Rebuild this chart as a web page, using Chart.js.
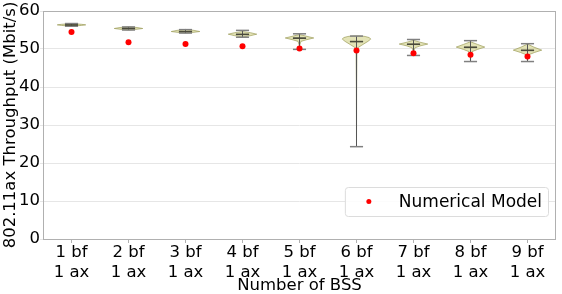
<!DOCTYPE html>
<html>
<head>
<meta charset="utf-8">
<script src="https://cdn.jsdelivr.net/npm/chart.js@4.4.1/dist/chart.umd.min.js"></script>
<style>
  html, body { margin: 0; padding: 0; background: #fff; }
  #wrap { width: 562px; height: 294px; }
</style>
</head>
<body>
<div id="wrap"><canvas id="chartViolin"></canvas></div>
<script>
// categorias (numero de BSS)
const categories = [
  ['1 bf', '1 ax'], ['2 bf', '1 ax'], ['3 bf', '1 ax'],
  ['4 bf', '1 ax'], ['5 bf', '1 ax'], ['6 bf', '1 ax'],
  ['7 bf', '1 ax'], ['8 bf', '1 ax'], ['9 bf', '1 ax']
];

// modelo numerico (puntos rojos)
const modelValues = [54.5, 51.8, 51.3, 50.7, 50.1, 49.6, 48.9, 48.5, 48.0];

// simulacion: min / max / media / mediana
const simMin    = [56.0, 55.0, 54.2, 53.1, 49.9, 24.3, 48.3, 46.7, 46.7];
const simMax    = [56.7, 55.8, 55.1, 54.9, 54.0, 53.4, 52.5, 52.2, 51.4];
const simMean   = [56.35, 55.4, 54.6, 53.8, 52.8, 51.9, 51.2, 50.4, 49.6];
const simMedian = [56.3, 55.4, 54.6, 53.9, 52.9, 52.0, 51.3, 50.5, 49.7];

// perfil de densidad de cada violin: [valor, ancho relativo]
const violinShapes = [
  [[56.7, 0], [56.5, 0.7], [56.35, 1], [56.2, 0.7], [56.0, 0]],
  [[55.85, 0], [55.65, 0.6], [55.4, 1], [55.2, 0.6], [55.0, 0]],
  [[55.15, 0], [54.9, 0.6], [54.6, 1], [54.4, 0.6], [54.2, 0]],
  [[54.6, 0], [54.3, 0.55], [53.9, 1], [53.5, 0.55], [53.2, 0.1], [53.1, 0]],
  [[53.8, 0], [53.4, 0.45], [52.9, 1], [52.4, 0.45], [52.0, 0.1], [51.0, 0.02], [49.9, 0]],
  [[53.45, 0.2], [53.3, 0.6], [53.0, 0.9], [52.6, 1], [52.0, 0.8], [51.2, 0.45], [50.4, 0.12], [49.8, 0.03], [40, 0.01], [24.3, 0]],
  [[52.3, 0], [51.8, 0.45], [51.3, 1], [50.8, 0.45], [50.3, 0.1], [49.5, 0.02], [48.3, 0]],
  [[51.9, 0], [51.2, 0.5], [50.5, 1], [49.9, 0.5], [49.3, 0.1], [48.0, 0.02], [46.7, 0]],
  [[51.3, 0], [50.5, 0.45], [49.7, 1], [49.1, 0.5], [48.5, 0.1], [47.5, 0.02], [46.7, 0]]
];

const FONT = "'DejaVu Sans', sans-serif";

// violines dibujados con las escalas del grafico
const violinPlugin = {
  id: 'violins',
  beforeDatasetsDraw(chart) {
    const { ctx, chartArea } = chart;
    const xs = chart.scales.x, ys = chart.scales.y;
    const step = xs.getPixelForValue(1) - xs.getPixelForValue(0);
    const halfW = step * 0.25;
    const capW = step * 0.115;

    ctx.save();
    // marco del area
    ctx.strokeStyle = '#b0b0b0';
    ctx.lineWidth = 1;
    ctx.strokeRect(chartArea.left + 0.5, chartArea.top + 0.5,
      chartArea.right - chartArea.left - 1, chartArea.bottom - chartArea.top);

    violinShapes.forEach((shape, i) => {
      const cx = xs.getPixelForValue(i);
      const right = shape.map(p => [cx + p[1] * halfW, ys.getPixelForValue(p[0])]);
      const left = shape.map(p => [cx - p[1] * halfW, ys.getPixelForValue(p[0])]).reverse();
      const pts = right.concat(left);
      ctx.beginPath();
      ctx.moveTo(pts[0][0], pts[0][1]);
      for (let k = 1; k < pts.length; k++) ctx.lineTo(pts[k][0], pts[k][1]);
      ctx.closePath();
      ctx.fillStyle = 'rgba(200, 200, 110, 0.5)';
      ctx.fill();
      ctx.strokeStyle = 'rgba(150, 150, 80, 0.8)';
      ctx.lineWidth = 0.8;
      ctx.stroke();

      // linea vertical min-max
      const yMin = ys.getPixelForValue(simMin[i]);
      const yMax = ys.getPixelForValue(simMax[i]);
      ctx.strokeStyle = '#555555';
      ctx.lineWidth = 1;
      ctx.beginPath();
      ctx.moveTo(cx, yMin);
      ctx.lineTo(cx, yMax);
      ctx.stroke();

      // tapas
      ctx.strokeStyle = '#808080';
      ctx.lineWidth = 1.5;
      [yMin, yMax].forEach(y => {
        ctx.beginPath();
        ctx.moveTo(cx - capW, y);
        ctx.lineTo(cx + capW, y);
        ctx.stroke();
      });

      // media y mediana
      ctx.strokeStyle = '#4a4a3a';
      ctx.lineWidth = 1.2;
      [simMean[i], simMedian[i]].forEach(v => {
        const y = ys.getPixelForValue(v);
        ctx.beginPath();
        ctx.moveTo(cx - capW, y);
        ctx.lineTo(cx + capW, y);
        ctx.stroke();
      });
    });
    ctx.restore();
  }
};

// leyenda estilo caja abajo a la derecha
const legendBoxPlugin = {
  id: 'legendBox',
  afterDatasetsDraw(chart) {
    const { ctx, chartArea } = chart;
    const ds = chart.data.datasets[0];
    ctx.save();
    ctx.font = '17px ' + FONT;
    const tw = ctx.measureText(ds.label).width;
    const boxR = chartArea.right - 8;
    const boxB = chartArea.bottom - 23;
    const boxH = 29;
    const boxL = boxR - tw - 60;
    const boxT = boxB - boxH;
    ctx.beginPath();
    ctx.roundRect(boxL + 0.5, boxT + 0.5, boxR - boxL, boxH, 3);
    ctx.fillStyle = 'rgba(255,255,255,0.85)';
    ctx.fill();
    ctx.strokeStyle = '#dcdcdc';
    ctx.lineWidth = 1;
    ctx.stroke();

    ctx.beginPath();
    ctx.arc(boxL + 24, boxT + boxH / 2, 2.5, 0, Math.PI * 2);
    ctx.fillStyle = ds.pointBackgroundColor;
    ctx.fill();

    ctx.fillStyle = '#000';
    ctx.textBaseline = 'middle';
    ctx.textAlign = 'left';
    ctx.fillText(ds.label, boxL + 54, boxT + boxH / 2 + 1);
    ctx.restore();
  }
};

new Chart(document.getElementById('chartViolin'), {
  type: 'line',
  data: {
    labels: categories,
    datasets: [{
      label: 'Numerical Model',
      data: modelValues,
      showLine: false,
      pointRadius: 3,
      pointHoverRadius: 3,
      pointBackgroundColor: '#ff0000',
      pointBorderWidth: 0,
      borderColor: '#ff0000'
    }]
  },
  options: {
    responsive: true,
    maintainAspectRatio: false,
    animation: false,
    layout: { padding: { top: 11, right: 6, left: 0, bottom: 0 } },
    plugins: {
      legend: { display: false },
      tooltip: { enabled: false }
    },
    scales: {
      x: {
        type: 'category',
        offset: true,
        border: { display: false },
        grid: { display: true, offset: false, drawOnChartArea: false, color: '#b0b0b0', tickLength: 4 },
        ticks: { color: '#000', font: { family: FONT, size: 16.5 }, padding: 0, maxRotation: 0, autoSkip: false },
        title: { display: true, text: 'Number of BSS', color: '#000', font: { family: FONT, size: 16.5, lineHeight: 1 }, padding: { top: 0, bottom: 0 } },
        afterFit(scale) { scale.height = 55; }
      },
      y: {
        min: 0,
        max: 60,
        border: { display: false },
        grid: { color: '#e6e6e6', tickLength: 3, drawTicks: true },
        ticks: { stepSize: 10, color: '#000', font: { family: FONT, size: 16.5 }, padding: 0 },
        title: { display: true, text: '802.11ax Throughput (Mbit/s)', color: '#000', font: { family: FONT, size: 16.5, lineHeight: 1 }, padding: { top: 2, bottom: 0 } },
        afterFit(scale) { scale.width = 43; }
      }
    }
  },
  plugins: [violinPlugin, legendBoxPlugin]
});
</script>
</body>
</html>
